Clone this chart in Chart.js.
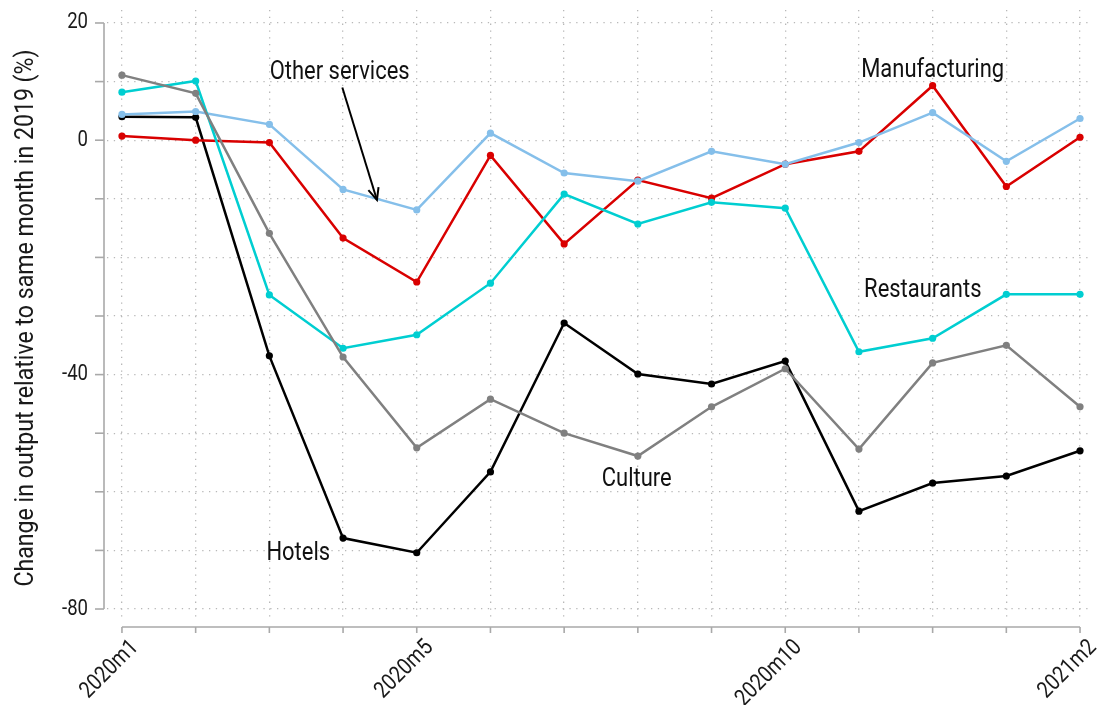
<!DOCTYPE html>
<html><head><meta charset="utf-8">
<script src="https://cdn.jsdelivr.net/npm/chart.js@4"></script>
<style>html,body{margin:0;padding:0;background:#fff}#wrap{width:1097px;height:705px}</style>
</head><body><div id="wrap"><canvas id="c" width="1097" height="705"></canvas></div>
<script>
const months = ['2020m1','2020m2','2020m3','2020m4','2020m5','2020m6','2020m7','2020m8','2020m9','2020m10','2020m11','2020m12','2021m1','2021m2'];
const labeledMonthIdx = [0, 4, 9, 13];
const yGridValues = [20, 10, 0, -10, -20, -30, -40, -50, -60, -70, -80];
const yLabeledValues = [20, 0, -40, -80];

const manufacturing = [0.7, 0.0, -0.4, -16.7, -24.2, -2.6, -17.7, -6.8, -9.9, -4.1, -1.9, 9.3, -7.9, 0.5];
const otherServices = [4.4, 4.9, 2.7, -8.4, -11.9, 1.2, -5.6, -7.0, -1.9, -4.1, -0.4, 4.7, -3.6, 3.7];
const restaurants   = [8.2, 10.1, -26.4, -35.5, -33.2, -24.4, -9.2, -14.3, -10.6, -11.6, -36.1, -33.8, -26.3, -26.3];
const culture       = [11.1, 8.0, -15.9, -37.0, -52.5, -44.2, -50.0, -53.9, -45.5, -39.0, -52.7, -38.0, -35.0, -45.5];
const hotels        = [4.0, 3.9, -36.8, -67.9, -70.4, -56.6, -31.2, -39.9, -41.6, -37.7, -63.3, -58.5, -57.3, -53.0];

const FONT = 'Roboto, "DejaVu Sans Condensed", sans-serif';
const TITLE = 'Change in output relative to same month in 2019 (%)';

function series(label, values, color) {
  return {
    label: label,
    data: values.map((v, i) => ({x: i, y: v})),
    borderColor: color, backgroundColor: color,
    pointBackgroundColor: color, pointBorderWidth: 0,
    pointRadius: 3.6, borderWidth: 2.5, tension: 0
  };
}

const annotations = [
  {text: 'Other services', x: 2.004, y: 10.4},
  {text: 'Manufacturing', x: 10.03, y: 10.7},
  {text: 'Restaurants', x: 10.07, y: -26.8},
  {text: 'Culture', x: 6.51, y: -59.0},
  {text: 'Hotels', x: 1.96, y: -71.6}
];

function squeezeFor(ctx, font, sample, targetWidth) {
  ctx.font = font;
  return targetWidth / ctx.measureText(sample).width;
}
function drawText(ctx, text, x, y, sx, align, baseline, rot) {
  ctx.save();
  ctx.translate(x, y);
  if (rot) ctx.rotate(rot);
  ctx.scale(sx, 1);
  ctx.textAlign = align; ctx.textBaseline = baseline;
  ctx.fillText(text, 0, 0);
  ctx.restore();
}

const axisPlugin = {
  id: 'axisPlugin',
  afterDraw(chart) {
    const ctx = chart.ctx;
    const xs = chart.scales.x, ys = chart.scales.y;
    const axisColor = '#a9a9a9';
    ctx.save();
    const yAxisX = 104;
    ctx.strokeStyle = axisColor; ctx.lineWidth = 1.6;
    ctx.beginPath();
    ctx.moveTo(yAxisX, ys.getPixelForValue(20));
    ctx.lineTo(yAxisX, ys.getPixelForValue(-80));
    ctx.stroke();
    yGridValues.forEach(v => {
      const p = ys.getPixelForValue(v);
      ctx.beginPath(); ctx.moveTo(yAxisX - 9, p); ctx.lineTo(yAxisX, p); ctx.stroke();
    });
    const xAxisY = 627;
    ctx.beginPath();
    ctx.moveTo(xs.getPixelForValue(0), xAxisY);
    ctx.lineTo(xs.getPixelForValue(13), xAxisY);
    ctx.stroke();
    months.forEach((m, i) => {
      const p = xs.getPixelForValue(i);
      ctx.beginPath(); ctx.moveTo(p, xAxisY); ctx.lineTo(p, xAxisY + 6); ctx.stroke();
    });

    ctx.fillStyle = '#1a1a1a';
    const tickFont = '22px ' + FONT;
    const sxTick = squeezeFor(ctx, tickFont, '-40', 26);
    ctx.font = tickFont;
    yLabeledValues.forEach(v => {
      drawText(ctx, String(v), 88, ys.getPixelForValue(v), sxTick, 'right', 'middle', 0);
    });
    const xFont = '23px ' + FONT;
    const sxX = squeezeFor(ctx, xFont, '2020m1', 72);
    ctx.font = xFont;
    labeledMonthIdx.forEach(i => {
      const p = xs.getPixelForValue(i);
      drawText(ctx, months[i], p + 5, 636, sxX, 'right', 'top', -Math.PI / 4);
    });
    const titleFont = '25px ' + FONT;
    const sxTitle = squeezeFor(ctx, titleFont, TITLE, 537);
    ctx.font = titleFont;
    drawText(ctx, TITLE, 33, 318, sxTitle, 'center', 'alphabetic', -Math.PI / 2);
    const annFont = '26px ' + FONT;
    const sxAnn = squeezeFor(ctx, annFont, 'Manufacturing', 143);
    ctx.font = annFont;
    ctx.fillStyle = '#111';
    annotations.forEach(a => {
      drawText(ctx, a.text, xs.getPixelForValue(a.x), ys.getPixelForValue(a.y), sxAnn, 'left', 'alphabetic', 0);
    });
    const x1 = xs.getPixelForValue(2.99), y1 = ys.getPixelForValue(9.0);
    const x2 = xs.getPixelForValue(3.46), y2 = ys.getPixelForValue(-10.2);
    ctx.strokeStyle = '#000'; ctx.lineWidth = 2;
    ctx.beginPath(); ctx.moveTo(x1, y1); ctx.lineTo(x2, y2); ctx.stroke();
    const ang = Math.atan2(y2 - y1, x2 - x1);
    const hl = 13, ha = 0.42;
    ctx.beginPath();
    ctx.moveTo(x2 - hl * Math.cos(ang - ha), y2 - hl * Math.sin(ang - ha));
    ctx.lineTo(x2, y2);
    ctx.lineTo(x2 - hl * Math.cos(ang + ha), y2 - hl * Math.sin(ang + ha));
    ctx.stroke();
    ctx.restore();
  }
};

const gridColor = '#b8b8b8';
new Chart(document.getElementById('c'), {
  type: 'line',
  data: {
    datasets: [
      series('Culture', culture, '#808080'),
      series('Restaurants', restaurants, '#00ced1'),
      series('Other services', otherServices, '#85bfea'),
      series('Manufacturing', manufacturing, '#d90000'),
      series('Hotels', hotels, '#000000')
    ]
  },
  options: {
    responsive: false, animation: false, devicePixelRatio: 1,
    layout: {padding: {top: 10, right: 2, left: 0, bottom: 0}},
    plugins: {legend: {display: false}, tooltip: {enabled: false}},
    scales: {
      x: {
        type: 'linear', min: -0.203, max: 13.176,
        afterBuildTicks: s => { s.ticks = months.map((m, i) => ({value: i})); },
        afterFit: s => { s.height = 83; },
        ticks: {display: false},
        grid: {color: gridColor, lineWidth: 1.3, drawTicks: false},
        border: {display: false, dash: [1.3, 5.5]}
      },
      y: {
        type: 'linear', min: -82.217, max: 22.217,
        afterBuildTicks: s => { s.ticks = yGridValues.map(v => ({value: v})); },
        afterFit: s => { s.width = 107; },
        ticks: {display: false},
        grid: {color: gridColor, lineWidth: 1.3, drawTicks: false},
        border: {display: false, dash: [1.3, 5.5]}
      }
    }
  },
  plugins: [axisPlugin]
});
</script></body></html>
